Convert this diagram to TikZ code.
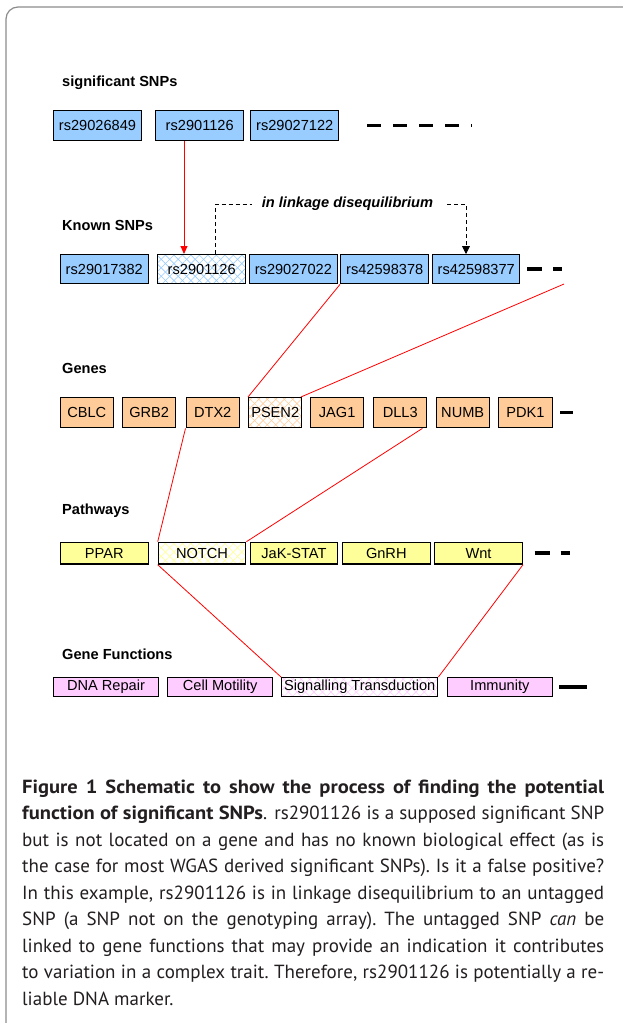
\documentclass[tikz,border=0pt]{standalone}
\usepackage{fontspec}
\setmainfont{Liberation Sans}
\newfontfamily\capfont[BoldFeatures={FakeStretch=1.08}]{PT Sans}
\usetikzlibrary{arrows.meta,patterns.meta,calc}
\definecolor{snpblue}{HTML}{99CCFF}
\definecolor{geneorange}{HTML}{FFCC99}
\definecolor{pathyellow}{HTML}{FFFF99}
\definecolor{funcpink}{HTML}{FFCCFF}
\definecolor{framegray}{HTML}{8C8C8C}
\definecolor{capcol}{HTML}{231F20}
\begin{document}
\begin{tikzpicture}[x=1pt,y=-1pt,
  box/.style={draw=black, line width=1.4pt, inner sep=0pt, anchor=north west,
    font=\fontsize{14.6}{17}\selectfont},
  hatch/.style={
    preaction={fill=white},
    preaction={pattern={Lines[angle=45,distance=6pt,line width=0.6pt]}, pattern color=#1},
    preaction={pattern={Lines[angle=-45,distance=6pt,line width=0.6pt]}, pattern color=#1}},
  rowlabel/.style={anchor=west, inner sep=0pt, font=\bfseries\fontsize{14.6}{17}\selectfont},
  redline/.style={draw=red, line width=0.8pt},
  ellipsis/.style={draw=black, line width=3.5pt},
  ldline/.style={draw=black, line width=0.9pt, dash pattern=on 4pt off 3pt},
  capline/.style={anchor=base west, inner sep=0pt, text=capcol,
    font=\capfont\fontsize{19}{26}\selectfont}]
\useasboundingbox (0,0) rectangle (623,1023);
\clip (0,0) rectangle (623,1023);
\fill[white] (0,0) rectangle (623,1023);
\draw[framegray, line width=1.2pt, rounded corners=12pt] (6,7) rectangle (660,1060);

% row labels
\node[rowlabel] (lab1) at (62,83) {significant SNPs};
\node[rowlabel] (lab2) at (62,225) {Known SNPs};
\node[rowlabel] (lab3) at (62,368) {Genes};
\node[rowlabel] (lab4) at (62,511) {Pathways};
\node[rowlabel] (lab5) at (62,654) {Gene Functions};

% significant SNPs
\node[box, fill=snpblue, minimum width=88pt, minimum height=30pt] (s1) at (52.8,110) {rs29026849};
\node[box, fill=snpblue, minimum width=88pt, minimum height=30pt] (s2) at (155,110) {rs2901126};
\node[box, fill=snpblue, minimum width=88pt, minimum height=30pt] (s3) at (250,110) {rs29027122};
\draw[ellipsis, dash pattern=on 14pt off 12pt] ([xshift=28pt]s3.east) -- ++(105,0);

% known SNPs
\node[box, fill=snpblue, minimum width=88pt, minimum height=29pt] (k1) at (59.6,254) {rs29017382};
\node[box, hatch=snpblue, minimum width=88pt, minimum height=29pt] (k2) at (157,254) {rs2901126};
\node[box, fill=snpblue, minimum width=88pt, minimum height=29pt] (k3) at (248.7,254) {rs29027022};
\node[box, fill=snpblue, minimum width=88pt, minimum height=29pt] (k4) at (340,254) {rs42598378};
\node[box, fill=snpblue, minimum width=87pt, minimum height=29pt] (k5) at (432,254) {rs42598377};
\draw[ellipsis, dash pattern=on 15pt off 11pt] ([xshift=7pt]k5.east) -- ++(35,0);

% arrow and linkage disequilibrium
\draw[red, line width=0.9pt, -{Triangle[length=8pt,width=7pt]}] ($(s2.south west)+(29,0)$) -- ($(k2.north west)+(27,0)$);
\node[inner sep=0pt, font=\bfseries\itshape\fontsize{14.6}{17}\selectfont] (ld) at (347.5,204) {in linkage disequilibrium};
\draw[ldline] ($(k2.north west)+(58.7,0)$) |- ([xshift=-10pt]ld.west);
\draw[ldline, -{Triangle[length=8pt,width=8pt]}] ([xshift=14pt]ld.east) -| ($(k5.north west)+(34,0)$);

% genes
\node[box, fill=geneorange, minimum width=53pt, minimum height=30pt] (g1) at (59.6,397) {CBLC};
\node[box, fill=geneorange, minimum width=53pt, minimum height=30pt] (g2) at (122,397) {GRB2};
\node[box, fill=geneorange, minimum width=53pt, minimum height=30pt] (g3) at (185.5,397) {DTX2};
\node[box, hatch=geneorange, minimum width=53pt, minimum height=30pt] (g4) at (248,397) {PSEN2};
\node[box, fill=geneorange, minimum width=53pt, minimum height=30pt] (g5) at (310,397) {JAG1};
\node[box, fill=geneorange, minimum width=53pt, minimum height=30pt] (g6) at (373,397) {DLL3};
\node[box, fill=geneorange, minimum width=53pt, minimum height=30pt] (g7) at (435.5,397) {NUMB};
\node[box, fill=geneorange, minimum width=53.5pt, minimum height=30pt] (g8) at (498,397) {PDK1};
\draw[ellipsis] ([xshift=7.5pt]g8.east) -- ++(13,0);

% pathways
\node[box, fill=pathyellow, minimum width=88pt, minimum height=21.6pt] (p1) at (59.6,541.7) {PPAR};
\node[box, hatch=pathyellow, minimum width=87.3pt, minimum height=21.6pt] (p2) at (157.7,541.7) {NOTCH};
\node[box, fill=pathyellow, minimum width=87.5pt, minimum height=21.6pt] (p3) at (249.5,541.7) {JaK-STAT};
\node[box, fill=pathyellow, minimum width=87.8pt, minimum height=21.6pt] (p4) at (341.7,541.7) {GnRH};
\node[box, fill=pathyellow, minimum width=87.6pt, minimum height=21.6pt] (p5) at (434,541.7) {Wnt};
\draw[ellipsis, dash pattern=on 15pt off 11pt] ([xshift=11.5pt]p5.east) -- ++(35,0);

% gene functions
\node[box, fill=funcpink, minimum width=105pt, minimum height=18.7pt] (f1) at (52.8,677) {DNA Repair};
\node[box, fill=funcpink, minimum width=105pt, minimum height=18.7pt] (f2) at (167,677) {Cell Motility};
\node[box, hatch=funcpink, minimum width=156pt, minimum height=18.7pt] (f3) at (281,677) {Signalling Transduction};
\node[box, fill=funcpink, minimum width=105pt, minimum height=18.7pt] (f4) at (446.6,677) {Immunity};
\draw[ellipsis] ([xshift=6pt]f4.east) -- ++(28,0);

% red links
\coordinate (untag) at (564,284);
\draw[redline] (k4.south west) -- (g4.north west);
\draw[redline] (untag) -- ([xshift=-1.5pt]g4.north east);
\draw[redline] (g3.south west) -- (p2.north west);
\draw[redline] ([xshift=-5pt]g6.south east) -- (p2.north east);
\draw[redline] (p2.south west) -- (f3.north west);
\draw[redline] (p5.south east) -- (f3.north east);

% caption
\node[capline] (c1) at (22,793.3) {\makebox[582pt][s]{\bfseries Figure 1 Schematic to show the process of finding the potential}};
\node[capline] (c2) at (22,819.8) {\makebox[582pt][s]{\textbf{function of significant SNPs}. rs2901126 is a supposed significant SNP}};
\node[capline] (c3) at (22,846.2) {\makebox[582pt][s]{but is not located on a gene and has no known biological effect (as is}};
\node[capline] (c4) at (22,872.7) {\makebox[582pt][s]{the case for most WGAS derived significant SNPs).\ Is it a false positive?}};
\node[capline] (c5) at (22,899.1) {\makebox[582pt][s]{In this example, rs2901126 is in linkage disequilibrium to an untagged}};
\node[capline] (c6) at (22,925.6) {\makebox[582pt][s]{SNP (a SNP not on the genotyping array).\ The untagged SNP \emph{can} be}};
\node[capline] (c7) at (22,952.1) {\makebox[582pt][s]{linked to gene functions that may provide an indication it contributes}};
\node[capline] (c8) at (22,978.5) {\makebox[582pt][s]{to variation in a complex trait.\ Therefore, rs2901126 is potentially a re-}};
\node[capline] (c9) at (22,1005) {liable DNA marker.};
\end{tikzpicture}
\end{document}
